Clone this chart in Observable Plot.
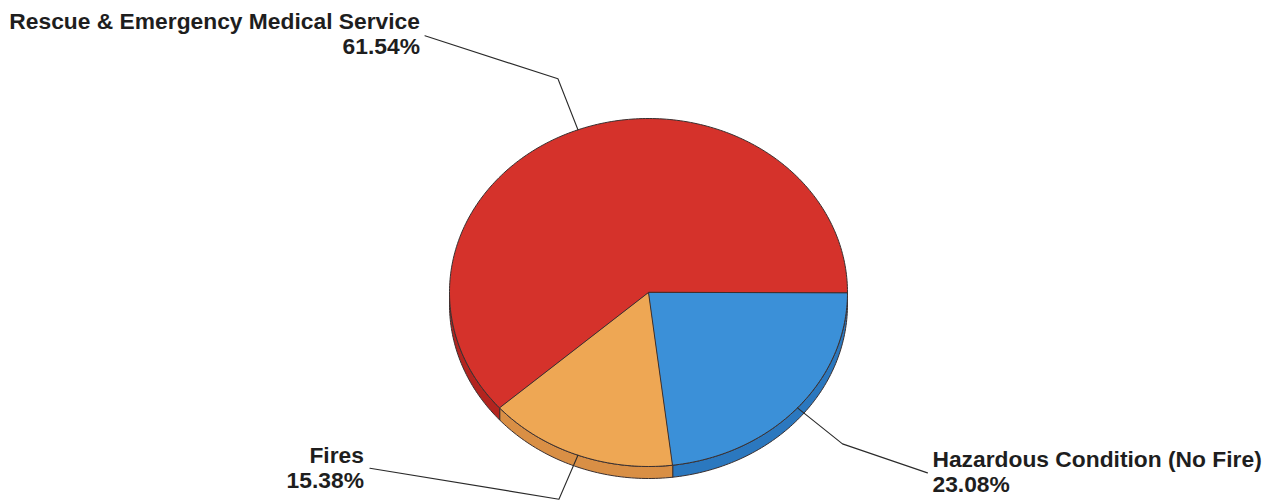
<!DOCTYPE html>
<html><head><meta charset="utf-8">
<script src="https://cdn.jsdelivr.net/npm/d3@7"></script>
<script src="https://cdn.jsdelivr.net/npm/@observablehq/plot@0.6"></script>
<style>body{margin:0;background:#fff}</style>
</head><body><div id="chart"></div>
<script>
// ---- data ----
const categories = ["Hazardous Condition (No Fire)", "Fires", "Rescue & Emergency Medical Service"];
const values = [3, 2, 8];            // incident counts -> 23.08%, 15.38%, 61.54%
const topColors = ["#3b90d8", "#eea754", "#d5322b"];
const sideColors = ["#2b78bf", "#d98f45", "#b3241f"];

// ---- layout (not data) ----
const pie = {cx: 648, cy: 292, rx: 199, ry: 174, depth: 12};
const labelLayout = [
  {kink: [45, 36], end: [130, 65], anchor: "start", tx: 5, ty1: -6, ty2: 19},
  {kink: [-19, 44], end: [-208, 13], anchor: "end", tx: -6, ty1: -5, ty2: 20},
  {kink: [-20, -51], end: [-153, -94], anchor: "end", tx: -5, ty1: -7, ty2: 18}
];

const total = d3.sum(values);
const fmt = d3.format(".2%");
const pt = (a, dy = 0) => ({x: pie.cx + pie.rx * Math.cos(a), y: pie.cy + pie.ry * Math.sin(a) + dy});
const arcPts = (a0, a1, dy = 0) => {
  const n = Math.max(2, Math.ceil((a1 - a0) / (Math.PI / 180)));
  return d3.range(n + 1).map(i => pt(a0 + (a1 - a0) * i / n, dy));
};

let acc = 0;
const slices = values.map((v, i) => {
  const a0 = acc / total * 2 * Math.PI;
  acc += v;
  const a1 = acc / total * 2 * Math.PI;
  return {i, a0, a1, mid: (a0 + a1) / 2, label: categories[i], pct: fmt(v / total)};
});

const marks = [];
// side bands (front half only)
for (const s of slices) {
  const b0 = Math.max(s.a0, 0), b1 = Math.min(s.a1, Math.PI);
  if (b1 <= b0) continue;
  const poly = [...arcPts(b0, b1), ...arcPts(b0, b1, pie.depth).reverse()];
  marks.push(Plot.line(poly, {x: "x", y: "y", curve: "linear-closed", fill: sideColors[s.i], stroke: "#3a3030", strokeWidth: 1}));
}
// top faces
for (const s of slices) {
  const poly = [{x: pie.cx, y: pie.cy}, ...arcPts(s.a0, s.a1)];
  marks.push(Plot.line(poly, {x: "x", y: "y", curve: "linear-closed", fill: topColors[s.i], stroke: "#3a3030", strokeWidth: 1}));
}
// leader lines and labels
const texts = [];
for (const s of slices) {
  const L = labelLayout[s.i];
  const p = pt(s.mid);
  const k = {x: p.x + L.kink[0], y: p.y + L.kink[1]};
  const e = {x: p.x + L.end[0], y: p.y + L.end[1]};
  marks.push(Plot.line([p, k, e], {x: "x", y: "y", stroke: "#2a2a2a", strokeWidth: 1.1}));
  texts.push({x: e.x + L.tx, y: e.y + L.ty1, text: s.label, anchor: L.anchor});
  texts.push({x: e.x + L.tx, y: e.y + L.ty2, text: s.pct, anchor: L.anchor});
}
for (const anchor of ["start", "end"]) {
  marks.push(Plot.text(texts.filter(t => t.anchor === anchor), {
    x: "x", y: "y", text: "text", textAnchor: anchor, lineAnchor: "bottom",
    fontSize: 22.8, fontWeight: "bold", fontFamily: "Liberation Sans, Arial, sans-serif", fill: "#1e1e1e"
  }));
}

const chart = Plot.plot({
  width: 1270, height: 500, margin: 0,
  x: {domain: [0, 1270], range: [0, 1270], axis: null},
  y: {domain: [0, 500], range: [0, 500], axis: null},
  style: {background: "white", overflow: "visible"},
  marks
});
document.getElementById("chart").append(chart);
</script>
</body></html>
